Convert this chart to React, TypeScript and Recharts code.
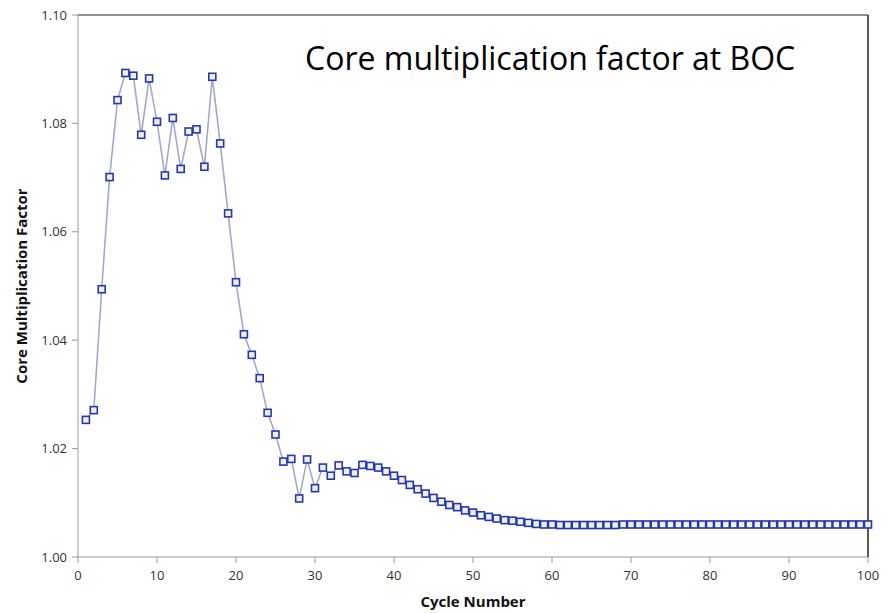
// Core multiplication factor at BOC — line with square markers (recharts).
import { LineChart, Line, XAxis, YAxis, ReferenceLine } from "recharts";

const cycles = [
  1, 2, 3, 4, 5, 6, 7, 8, 9, 10, 11, 12, 13, 14, 15, 16, 17, 18, 19, 20,
  21, 22, 23, 24, 25, 26, 27, 28, 29, 30, 31, 32, 33, 34, 35, 36, 37, 38, 39, 40,
  41, 42, 43, 44, 45, 46, 47, 48, 49, 50, 51, 52, 53, 54, 55, 56, 57, 58, 59, 60,
  61, 62, 63, 64, 65, 66, 67, 68, 69, 70, 71, 72, 73, 74, 75, 76, 77, 78, 79, 80,
  81, 82, 83, 84, 85, 86, 87, 88, 89, 90, 91, 92, 93, 94, 95, 96, 97, 98, 99, 100,
];

const keff = [
  1.0253, 1.0271, 1.0494, 1.0701, 1.0843, 1.0893, 1.0888, 1.0779, 1.0883, 1.0803,
  1.0704, 1.0810, 1.0716, 1.0785, 1.0789, 1.0720, 1.0886, 1.0763, 1.0634, 1.0507,
  1.0411, 1.0373, 1.0330, 1.0266, 1.0226, 1.0176, 1.0181, 1.0108, 1.0180, 1.0127,
  1.0165, 1.0150, 1.0169, 1.0158, 1.0155, 1.0170, 1.0168, 1.0165, 1.0158, 1.0150,
  1.0142, 1.0133, 1.0125, 1.0117, 1.0109, 1.0102, 1.0096, 1.0092, 1.0086, 1.0082,
  1.0077, 1.0074, 1.0071, 1.0068, 1.0067, 1.0065, 1.0063, 1.0061, 1.0060, 1.0060,
  1.0059, 1.0059, 1.0059, 1.0059, 1.0059, 1.0059, 1.0059, 1.0059, 1.0060, 1.0060,
  1.0060, 1.0060, 1.0060, 1.0060, 1.0060, 1.0060, 1.0060, 1.0060, 1.0060, 1.0060,
  1.0060, 1.0060, 1.0060, 1.0060, 1.0060, 1.0060, 1.0060, 1.0060, 1.0060, 1.0060,
  1.0060, 1.0060, 1.0060, 1.0060, 1.0060, 1.0060, 1.0060, 1.0060, 1.0060, 1.0060,
];

const xTicks = [0, 10, 20, 30, 40, 50, 60, 70, 80, 90, 100];
const yTicks = [1.0, 1.02, 1.04, 1.06, 1.08, 1.1];

const data = cycles.map((c, i) => ({ cycle: c, k: keff[i] }));

const FONT = "'Open Sans', 'Liberation Sans', sans-serif";
const TICK = { fontSize: 13, fill: "#333", fontFamily: FONT } as const;

// квадратный маркер как в Excel
function SquareDot(props: any) {
  const { cx, cy } = props;
  if (cx == null || cy == null) return null;
  return <rect x={cx - 3.5} y={cy - 3.5} width={7} height={7} fill="#eef0fa" stroke="#2438ad" strokeWidth={1.6} />;
}

export default function App() {
  return (
    <div style={{ position: "absolute", left: 0, top: 0, width: 887, height: 613, background: "#fff" }}>
      <LineChart width={887} height={613} data={data} margin={{ top: 15, right: 19, bottom: 0, left: 0 }}>
        <XAxis
          dataKey="cycle" type="number" domain={[0, 100]} ticks={xTicks}
          tick={TICK} tickLine={{ stroke: "#999" }} axisLine={{ stroke: "#999" }}
          tickSize={6} tickMargin={8} height={56}
          label={{ value: "Cycle Number", position: "insideBottom", offset: 6, style: { fontSize: 15, fontWeight: 700, fill: "#111", fontFamily: FONT } }}
        />
        <YAxis
          type="number" domain={[1.0, 1.1]} ticks={yTicks} tickFormatter={(v: number) => v.toFixed(2)}
          tick={TICK} tickLine={{ stroke: "#999" }} axisLine={{ stroke: "#999" }}
          tickSize={6} tickMargin={5} width={78}
          label={{ value: "Core Multiplication Factor", angle: -90, position: "insideLeft", offset: 22, style: { textAnchor: "middle", fontSize: 15, fontWeight: 700, fill: "#111", fontFamily: FONT } }}
        />
        <ReferenceLine y={1.1} stroke="#222" strokeWidth={1} />
        <ReferenceLine x={100} stroke="#222" strokeWidth={1.5} />
        <Line
          dataKey="k" type="linear" stroke="#a3a8cf" strokeWidth={1.6}
          dot={<SquareDot />} activeDot={false} isAnimationActive={false}
        />
      </LineChart>
      <div style={{ position: "absolute", left: 305, top: 36, fontFamily: FONT, fontSize: 32, color: "#000", whiteSpace: "nowrap" }}>
        Core multiplication factor at BOC
      </div>
    </div>
  );
}
